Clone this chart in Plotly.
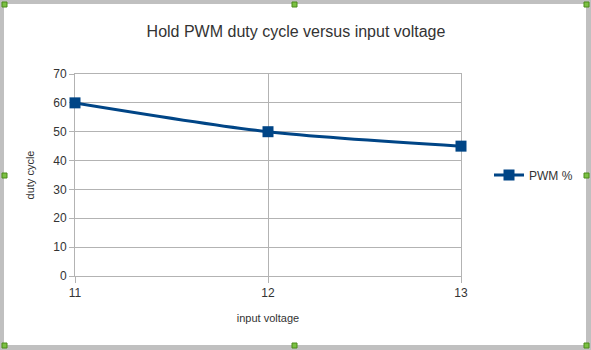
import plotly.graph_objects as go

x_values = [11, 12, 13]
pwm_percent = [60, 50, 45]
series_name = "PWM %"
y_ticks = [0, 10, 20, 30, 40, 50, 60, 70]

W, H = 591, 350
L, R, T, B = 75, 130, 74, 74
pw, ph = W - L - R, H - T - B

def px(xp):
    return (xp - L) / pw

def py(yp):
    return (H - B - yp) / ph

fig = go.Figure()
fig.add_trace(go.Scatter(
    x=x_values, y=pwm_percent, name=series_name,
    mode="lines+markers",
    line=dict(color="#004586", width=3, shape="spline", smoothing=0.8),
    marker=dict(symbol="square", size=11, color="#004586"),
    cliponaxis=False,
))

shapes = []
gray = "#c0c0c0"
# outer gray frame
for (x0, y0, x1, y1) in [(0, 0, 4, H), (0, 0, W, 4), (586, 0, W, H), (0, 345, W, H)]:
    shapes.append(dict(type="rect", xref="paper", yref="paper",
                       x0=px(x0), x1=px(x1), y0=py(y1), y1=py(y0),
                       fillcolor=gray, line=dict(width=0), layer="above"))
# handles
for (hx, hy) in [(4, 4), (294, 4), (586, 4), (4, 175), (586, 175), (4, 345), (294, 345), (586, 345)]:
    shapes.append(dict(type="rect", xref="paper", yref="paper",
                       x0=px(hx - 2), x1=px(hx + 3), y0=py(hy + 3), y1=py(hy - 2),
                       fillcolor="#7bc142", line=dict(width=1, color="#4a8a1a"), layer="above"))

axis_gray = "#b3b3b3"
fig.update_layout(
    width=W, height=H,
    margin=dict(l=L, r=R, t=T, b=B, autoexpand=False),
    paper_bgcolor="white", plot_bgcolor="white",
    font=dict(family="Liberation Sans, Arial, sans-serif", color="#333333", size=12),
    title=dict(text="Hold PWM duty cycle versus input voltage",
               x=296 / W, xanchor="center", y=1 - 31 / H, yanchor="middle",
               font=dict(size=16, color="#333333")),
    xaxis=dict(range=[11, 13], tickvals=x_values, ticktext=[str(v) for v in x_values],
               showgrid=True, gridcolor=axis_gray, gridwidth=1,
               showline=True, mirror=True, linecolor=axis_gray, linewidth=1,
               zeroline=False, layer="below traces",
               ticks="outside", ticklen=6, tickcolor=axis_gray,
               title=dict(text="input voltage", font=dict(size=11), standoff=14),
               tickfont=dict(size=12)),
    yaxis=dict(range=[0, 70], tickvals=y_ticks,
               showgrid=True, gridcolor=axis_gray, gridwidth=1,
               showline=True, mirror=True, linecolor=axis_gray, linewidth=1,
               zeroline=False, layer="below traces",
               ticks="outside", ticklen=5, tickcolor=axis_gray,
               title=dict(text="duty cycle", font=dict(size=11), standoff=16),
               tickfont=dict(size=12)),
    legend=dict(x=px(489), y=py(175), xanchor="left", yanchor="middle",
                font=dict(size=12), bgcolor="rgba(0,0,0,0)", itemwidth=30),
    showlegend=True,
    shapes=shapes,
)

fig.write_html("out.html")
